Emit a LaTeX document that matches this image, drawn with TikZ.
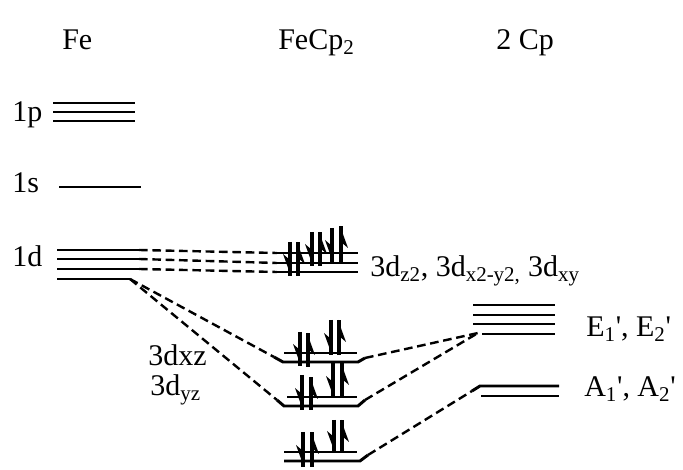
\documentclass[tikz,border=0pt]{standalone}
\usepackage{fontspec}
\setmainfont{Liberation Serif}[Ligatures=TeXOff]
\newcommand{\eldn}[3]{%
  \draw[el] (#1,#2) -- (#1,#3);
  \fill (#1+1,#3) -- (#1-7,#3-22) -- (#1,#3-16) -- cycle;}
\newcommand{\elup}[3]{%
  \draw[el] (#1,#3) -- (#1,#2);
  \fill (#1-1,#2) -- (#1+7,#2+22) -- (#1,#2+16) -- cycle;}
\begin{document}
\begin{tikzpicture}[x=0.75pt,y=-0.75pt,
  lvl/.style={line width=2.2pt},
  dsh/.style={line width=1.8pt, dash pattern=on 6.5pt off 3.5pt},
  el/.style={line width=2.5pt},
  lab/.style={anchor=base west, inner sep=0pt, font=\fontsize{22.5}{26}\selectfont}]
\useasboundingbox (0,0) rectangle (683,470);
% column titles
\node[lab] (tFe) at (62,50) {Fe};
\node[lab] (tFeCp) at (278,50) {FeCp\textsubscript{2}};
\node[lab] (tCp) at (496,50) {2 Cp};
% Fe levels
\node[lab] (l1p) at (12,122) {1p};
\node[lab] (l1s) at (12,193) {1s};
\node[lab] (l1d) at (12,267) {1d};
\draw[lvl] (53,103) -- (135,103);
\draw[lvl] (53,112) -- (135,112);
\draw[lvl] (53,121) -- (135,121);
\draw[lvl] (59,187) -- (141,187);
\coordinate (d1) at (139,250);
\coordinate (d2) at (139,259);
\coordinate (d3) at (139,269);
\coordinate (d4) at (130,279);
\draw[lvl] (57,250) -- (d1);
\draw[lvl] (57,259) -- (d2);
\draw[lvl] (57,269) -- (d3);
\draw[lvl] (57,279) -- (d4);
% FeCp2 top level
\coordinate (t1) at (277,253);
\coordinate (t2) at (277,263);
\coordinate (t3) at (277,272);
\draw[lvl] (t1) -- (358,253);
\draw[lvl] (t2) -- (358,263);
\draw[lvl] (t3) -- (358,272);
\draw[dsh] (d1) -- (t1);
\draw[dsh] (d2) -- (t2);
\draw[dsh] (d3) -- (t3);
\node[lab] (ltop) at (370,277) {3d\textsubscript{z2}, 3d\textsubscript{x2-y2,} 3d\textsubscript{xy}};
% level 2
\coordinate (aL) at (274,357);
\coordinate (aR) at (365,358);
\draw[lvl] (284,353) -- (357,353);
\draw[lvl] (aL) -- (283,362) -- (358,362) -- (aR);
% level 3
\coordinate (bL) at (277,400);
\coordinate (bR) at (365,400);
\draw[lvl] (287,397) -- (357,397);
\draw[lvl] (bL) -- (284,406) -- (358,406) -- (bR);
% level 4
\coordinate (cR) at (368,455);
\draw[lvl] (284,452) -- (357,452);
\draw[lvl] (284,461) -- (360,461) -- (cR);
% Cp levels
\coordinate (eL) at (478,333);
\draw[lvl] (473,305) -- (555,305);
\draw[lvl] (473,315) -- (555,315);
\draw[lvl] (473,324) -- (555,324);
\draw[lvl] (482,334) -- (555,334);
\coordinate (aaL) at (472,391);
\draw[lvl] (aaL) -- (480,386) -- (559,386);
\draw[lvl] (481,396) -- (559,396);
\node[lab] (lE) at (586,337) {E\textsubscript{1}', E\textsubscript{2}'};
\node[lab] (lA) at (584,397) {A\textsubscript{1}', A\textsubscript{2}'};
% correlation lines
\draw[dsh] (d4) -- (aL);
\draw[dsh] (d4) -- (bL);
\draw[dsh] (aR) -- (eL);
\draw[dsh] (bR) -- (eL);
\draw[dsh] (cR) -- (aaL);
\node[lab] (lxz) at (148,366) {3dxz};
\node[lab] (lyz) at (150,396) {3d\textsubscript{yz}};
% electrons
\eldn{290}{242}{276} \elup{298}{242}{276}
\eldn{312}{232}{266} \elup{320}{232}{266}
\eldn{332}{228}{262} \elup{341}{226}{262}
\eldn{300}{332}{366} \elup{308}{333}{367}
\eldn{331}{320}{355} \elup{339}{320}{355}
\eldn{302}{375}{410} \elup{311}{377}{410}
\eldn{333}{363}{398} \elup{342}{363}{398}
\eldn{303}{432}{467} \elup{312}{432}{467}
\eldn{334}{420}{453} \elup{342}{420}{453}
\end{tikzpicture}
\end{document}
